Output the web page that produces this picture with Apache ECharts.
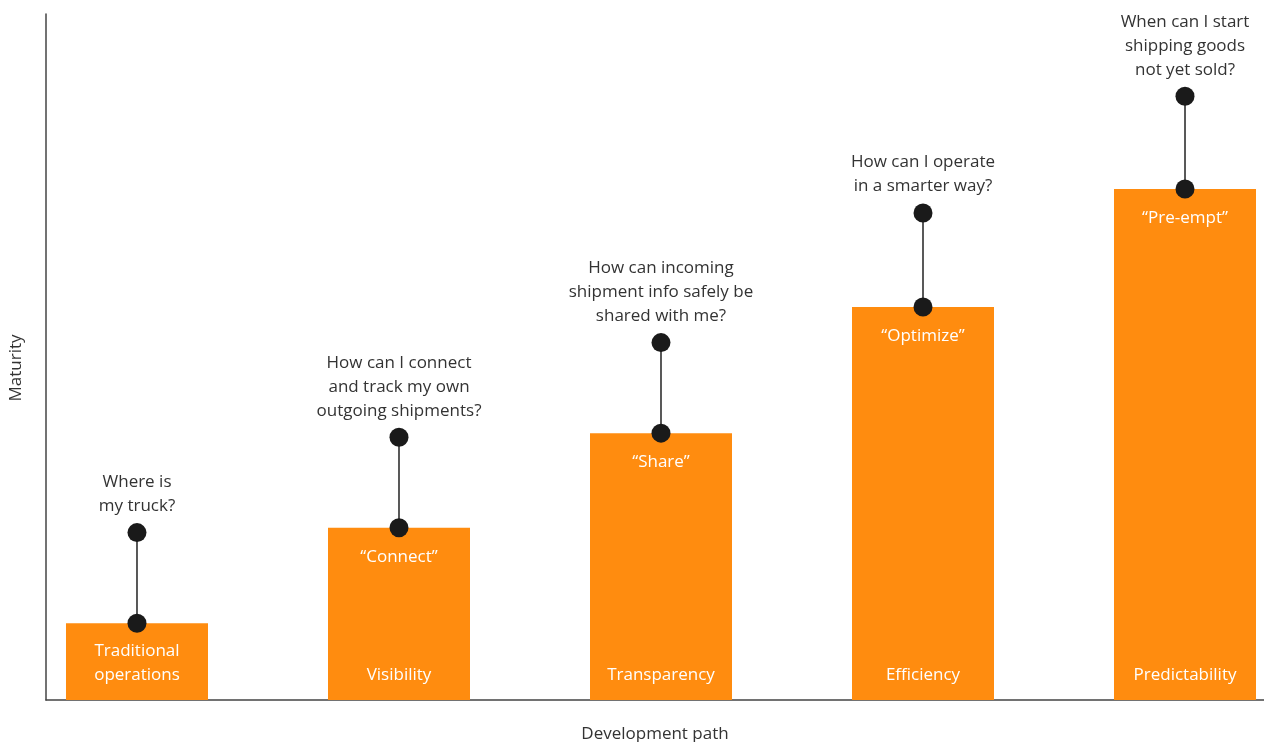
<!DOCTYPE html>
<html>
<head>
<meta charset="utf-8">
<script src="https://cdn.jsdelivr.net/npm/echarts@6/dist/echarts.min.js"></script>
<style>html,body{margin:0;padding:0;background:#fff;}#c{width:1264px;height:742px;}</style>
</head>
<body>
<div id="c"></div>
<script>
const categories = ['Traditional\noperations', 'Visibility', 'Transparency', 'Efficiency', 'Predictability'];
const stageNames = ['', '\u201cConnect\u201d', '\u201cShare\u201d', '\u201cOptimize\u201d', '\u201cPre-empt\u201d'];
const questions = [
  'Where is\nmy truck?',
  'How can I connect\nand track my own\noutgoing shipments?',
  'How can incoming\nshipment info safely be\nshared with me?',
  'How can I operate\nin a smarter way?',
  'When can I start\nshipping goods\nnot yet sold?'
];
const maturity = [11.2, 25.1, 38.9, 57.3, 74.5];
const ambition = [24.4, 38.3, 52.1, 71.0, 88.0];

const FONT = 'Open Sans';
const FS = 17;
const chart = echarts.init(document.getElementById('c'), null, {renderer: 'canvas'});
chart.setOption({
  animation: false,
  backgroundColor: '#fff',
  grid: {left: 46, right: 0, top: 14, bottom: 42, outerBoundsMode: 'none', containLabel: false},
  xAxis: {
    type: 'value', min: -0.3473, max: 4.3015,
    name: 'Development path', nameLocation: 'middle', nameGap: 26,
    nameTextStyle: {fontFamily: FONT, fontSize: FS, color: '#333'},
    axisLine: {show: true, onZero: false, lineStyle: {color: '#444', width: 1.5}},
    axisTick: {show: false}, axisLabel: {show: false}, splitLine: {show: false}
  },
  yAxis: {
    type: 'value', min: 0, max: 100,
    name: 'Maturity', nameLocation: 'middle', nameGap: 21,
    nameTextStyle: {fontFamily: FONT, fontSize: FS, color: '#333', padding: [0, 22, 0, 0]},
    axisLine: {show: true, onZero: false, lineStyle: {color: '#444', width: 1.5}},
    axisTick: {show: false}, axisLabel: {show: false}, splitLine: {show: false}
  },
  series: [
    {
      type: 'bar', barWidth: 142,
      data: maturity.map((v, i) => [i, v]),
      itemStyle: {color: '#FF8C0F'},
      label: {
        show: true, position: 'insideBottom', distance: 13,
        formatter: p => categories[p.dataIndex],
        color: '#fff', fontFamily: FONT, fontSize: FS, lineHeight: 24
      }
    },
    {
      type: 'custom',
      data: maturity.map((v, i) => [i, v, ambition[i]]),
      renderItem: (params, api) => {
        const a = api.coord([api.value(0), api.value(1)]);
        const b = api.coord([api.value(0), api.value(2)]);
        return {type: 'line', shape: {x1: a[0], y1: a[1], x2: b[0], y2: b[1]},
          style: {stroke: '#222', lineWidth: 1.5}};
      },
      z: 3
    },
    {
      type: 'scatter', symbol: 'circle', symbolSize: 19,
      data: maturity.map((v, i) => [i, v]),
      itemStyle: {color: '#1a1a1a', opacity: 1},
      label: {
        show: true, position: 'bottom', distance: 8,
        formatter: p => stageNames[p.dataIndex],
        color: '#fff', fontFamily: FONT, fontSize: FS, lineHeight: 24
      },
      z: 4
    },
    {
      type: 'scatter', symbol: 'circle', symbolSize: 19,
      data: ambition.map((v, i) => [i, v]),
      itemStyle: {color: '#1a1a1a', opacity: 1},
      label: {
        show: true, position: 'top', distance: 5,
        formatter: p => questions[p.dataIndex],
        color: '#333', fontFamily: FONT, fontSize: FS, lineHeight: 24, align: 'center'
      },
      z: 4
    }
  ]
});
</script>
</body>
</html>
